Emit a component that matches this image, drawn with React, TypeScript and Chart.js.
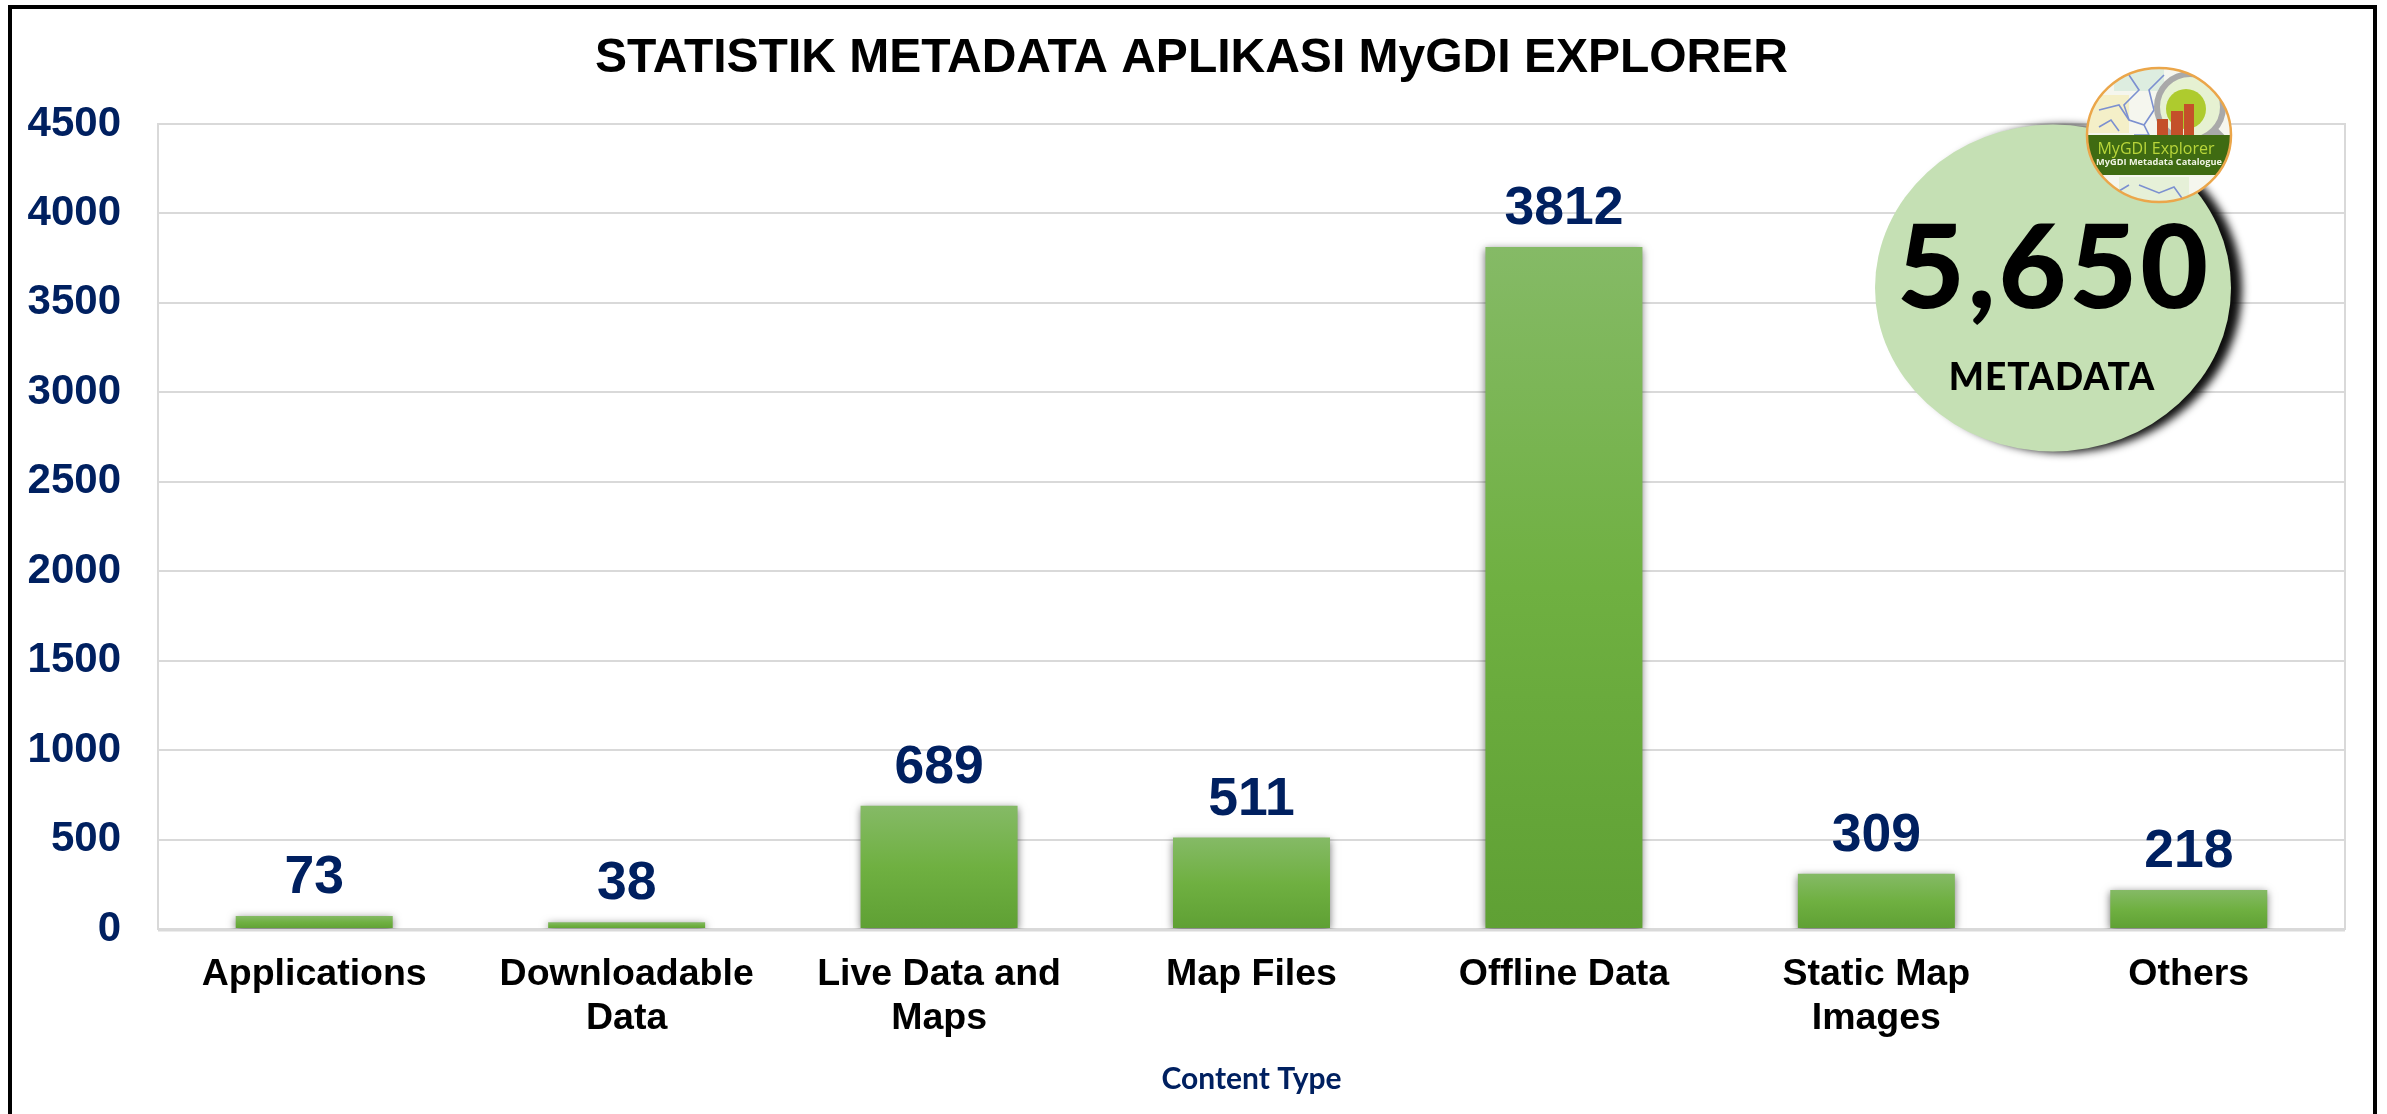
import React, { useEffect, useRef } from "react";
import { Chart, registerables } from "chart.js";

Chart.register(...registerables);

const categories = [
  "Applications",
  ["Downloadable", "Data"],
  ["Live Data and", "Maps"],
  "Map Files",
  "Offline Data",
  ["Static Map", "Images"],
  "Others",
];
const metadataCounts = [73, 38, 689, 511, 3812, 309, 218];
const titleText = "STATISTIK METADATA APLIKASI MyGDI EXPLORER";
const xAxisTitle = "Content Type";
const badgeNumber = "5,650";
const badgeLabel = "METADATA";
const logoName = "MyGDI Explorer";
const logoSub = "MyGDI Metadata Catalogue";

const NAVY = "#002060";
const GRID = "#D9D9D9";
const SANS = "'Liberation Sans', Arial, sans-serif";

function barGradient(c: any) {
  const { chart, parsed } = c;
  const yScale = chart.scales.y;
  if (!yScale || !parsed) return "#70AD47";
  const top = yScale.getPixelForValue(parsed.y);
  const base = yScale.getPixelForValue(0);
  if (!Number.isFinite(top) || !Number.isFinite(base)) return "#70AD47";
  const g = chart.ctx.createLinearGradient(0, top, 0, base);
  g.addColorStop(0, "#85BA66");
  g.addColorStop(0.5, "#6FB041");
  g.addColorStop(1, "#5FA034");
  return g;
}

const frame = {
  id: "frame",
  beforeDraw(chart: any) {
    // centre the built-in title over the picture's own title position
    if (chart.titleBlock) chart.titleBlock.left = 38;
  },
  beforeDatasetsDraw(chart: any) {
    const { ctx, chartArea: a } = chart;
    ctx.save();
    ctx.strokeStyle = GRID;
    ctx.lineWidth = 2;
    ctx.strokeRect(a.left, a.top, a.right - a.left, a.bottom - a.top);
    ctx.lineWidth = 3;
    ctx.beginPath();
    ctx.moveTo(a.left, a.bottom + 1);
    ctx.lineTo(a.right, a.bottom + 1);
    ctx.stroke();
    ctx.restore();
  },
  afterDraw(chart: any) {
    const { ctx } = chart;
    ctx.save();
    ctx.fillStyle = "#000";
    ctx.fillRect(8, 5, 2369, 4);
    ctx.fillRect(8, 5, 4, 1109);
    ctx.fillRect(2373, 5, 4, 1109);
    ctx.restore();
  },
};

const barShadow = {
  id: "barShadow",
  beforeDatasetDraw(chart: any) {
    const { ctx } = chart;
    ctx.save();
    ctx.shadowColor = "rgba(0,0,0,0.55)";
    ctx.shadowBlur = 8;
    ctx.shadowOffsetX = 0;
    ctx.shadowOffsetY = 2;
  },
  afterDatasetDraw(chart: any) {
    chart.ctx.restore();
  },
};

const valueLabels = {
  id: "valueLabels",
  afterDatasetsDraw(chart: any) {
    const { ctx } = chart;
    const meta = chart.getDatasetMeta(0);
    ctx.save();
    ctx.font = `bold 53.5px ${SANS}`;
    ctx.fillStyle = NAVY;
    ctx.textAlign = "center";
    ctx.textBaseline = "alphabetic";
    meta.data.forEach((bar: any, i: number) => {
      ctx.fillText(String(metadataCounts[i]), bar.x, bar.y - 23);
    });
    ctx.restore();
  },
};

function drawLogo(ctx: CanvasRenderingContext2D) {
  const cx = 2159;
  const cy = 135;
  const rx = 72;
  const ry = 67;
  ctx.save();
  ctx.beginPath();
  ctx.ellipse(cx, cy, rx, ry, 0, 0, Math.PI * 2);
  ctx.fillStyle = "#F5F6EE";
  ctx.fill();
  ctx.clip();

  // map background
  ctx.fillStyle = "#F4EFC8";
  ctx.fillRect(cx - 70, cy - 40, 40, 38);
  ctx.fillStyle = "#DDEDE0";
  ctx.fillRect(cx - 45, cy - 70, 50, 26);
  ctx.fillStyle = "#E6F0D8";
  ctx.fillRect(cx - 40, cy + 42, 70, 26);
  const rivers = [
    [[-60, -25], [-40, -30], [-30, -15], [-15, -10], [-10, 0], [-25, 0]],
    [[-30, -60], [-20, -45], [-35, -30], [-30, -15]],
    [[-15, -10], [-5, -25], [-10, -45], [5, -60]],
    [[-20, 50], [0, 58], [15, 52], [25, 66]],
    [[-55, 48], [-40, 56], [-30, 50]],
    [[-60, -8], [-48, -15], [-40, -4]],
  ];
  ctx.strokeStyle = "#7C90D0";
  ctx.lineWidth = 1.6;
  rivers.forEach((pts) => {
    ctx.beginPath();
    pts.forEach(([x, y], i) => (i ? ctx.lineTo(cx + x, cy + y) : ctx.moveTo(cx + x, cy + y)));
    ctx.stroke();
  });

  // magnifier
  const mx = cx + 31;
  const my = cy - 28;
  ctx.beginPath();
  ctx.arc(mx, my, 33, 0, Math.PI * 2);
  ctx.fillStyle = "#E6F1D2";
  ctx.fill();
  ctx.beginPath();
  ctx.arc(mx - 4, my + 2, 20, 0, Math.PI * 2);
  ctx.fillStyle = "#AECB2E";
  ctx.fill();
  ctx.beginPath();
  ctx.arc(mx, my, 33, 0, Math.PI * 2);
  ctx.strokeStyle = "#A9A9A9";
  ctx.lineWidth = 6;
  ctx.stroke();
  ctx.beginPath();
  ctx.moveTo(mx + 24, my + 24);
  ctx.lineTo(mx + 40, my + 40);
  ctx.lineWidth = 9;
  ctx.stroke();

  // red blocks
  ctx.fillStyle = "#C4502A";
  ctx.fillRect(cx - 2, cy - 16, 11, 16);
  ctx.fillRect(cx + 12, cy - 24, 12, 24);
  ctx.fillRect(cx + 25, cy - 31, 10, 31);

  // band
  ctx.fillStyle = "#3F6B12";
  ctx.fillRect(cx - rx, cy, rx * 2, 40);
  ctx.textAlign = "center";
  ctx.textBaseline = "middle";
  ctx.font = `16px 'Open Sans', sans-serif`;
  ctx.fillStyle = "#B9D63A";
  ctx.fillText(logoName, cx - 3, cy + 14);
  ctx.font = `bold 9.2px 'Open Sans', sans-serif`;
  ctx.fillStyle = "#F0F4E4";
  ctx.fillText(logoSub, cx, cy + 27);
  ctx.restore();

  ctx.beginPath();
  ctx.ellipse(cx, cy, rx, ry, 0, 0, Math.PI * 2);
  ctx.strokeStyle = "#EBA64A";
  ctx.lineWidth = 2.5;
  ctx.stroke();
}

const badge = {
  id: "badge",
  afterDraw(chart: any) {
    const { ctx } = chart;
    ctx.save();
    ctx.save();
    ctx.shadowColor = "rgba(0,0,0,0.95)";
    ctx.shadowBlur = 9;
    ctx.shadowOffsetX = 11;
    ctx.shadowOffsetY = 1;
    ctx.beginPath();
    ctx.ellipse(2053, 288, 178, 163.5, 0, 0, Math.PI * 2);
    ctx.fillStyle = "#C5E0B4";
    ctx.fill();
    ctx.restore();
    ctx.fillStyle = "#000";
    ctx.textAlign = "center";
    ctx.textBaseline = "alphabetic";
    (ctx as any).letterSpacing = "3px";
    ctx.font = `900 117px Lato, sans-serif`;
    ctx.fillText(badgeNumber, 2054, 308);
    (ctx as any).letterSpacing = "1px";
    ctx.font = `900 37px Lato, sans-serif`;
    ctx.fillText(badgeLabel, 2052, 390);
    (ctx as any).letterSpacing = "0px";
    ctx.restore();
    drawLogo(ctx);
  },
};

export default function App() {
  const ref = useRef<HTMLCanvasElement>(null);
  useEffect(() => {
    document.body.style.margin = "0";
    document.body.style.overflow = "hidden";
    document.body.style.background = "#fff";
    const chart = new Chart(ref.current!, {
      type: "bar",
      data: {
        labels: categories as any,
        datasets: [
          {
            label: "Metadata",
            data: metadataCounts,
            backgroundColor: barGradient as any,
            barPercentage: 0.5025,
            categoryPercentage: 1,
            borderWidth: 0,
          },
        ],
      },
      options: {
        responsive: false,
        animation: false,
        layout: { padding: { left: 0, top: 0, right: 42, bottom: 0 } },
        plugins: {
          legend: { display: false },
          tooltip: { enabled: false },
          title: {
            display: true,
            text: titleText,
            color: "#000",
            font: { family: SANS, size: 48, weight: "bold" },
            padding: { top: 30, bottom: 36.4 },
          },
        },
        scales: {
          x: {
            afterFit(s: any) {
              s.height = 185;
            },
            grid: { display: false, drawTicks: false },
            border: { display: false },
            ticks: {
              autoSkip: false,
              maxRotation: 0,
              minRotation: 0,
              padding: 24,
              color: "#000",
              font: { family: SANS, size: 37.5, weight: "bold", lineHeight: 1.17 },
            },
            title: {
              display: true,
              text: xAxisTitle,
              color: NAVY,
              font: { family: "Lato, sans-serif", size: 30, weight: "bold" },
              padding: { top: 0, bottom: 17 },
            },
          },
          y: {
            min: 0,
            max: 4500,
            afterFit(s: any) {
              s.width = 158;
            },
            grid: { color: GRID, lineWidth: 2, drawTicks: false },
            border: { display: false },
            ticks: {
              stepSize: 500,
              padding: 37,
              color: NAVY,
              font: { family: SANS, size: 42, weight: "bold" },
              callback: (v: any) => String(v),
            },
          },
        },
      },
      plugins: [frame, barShadow, valueLabels, badge],
    } as any);
    return () => chart.destroy();
  }, []);
  return <canvas ref={ref} width={2387} height={1114} style={{ display: "block" }} />;
}
